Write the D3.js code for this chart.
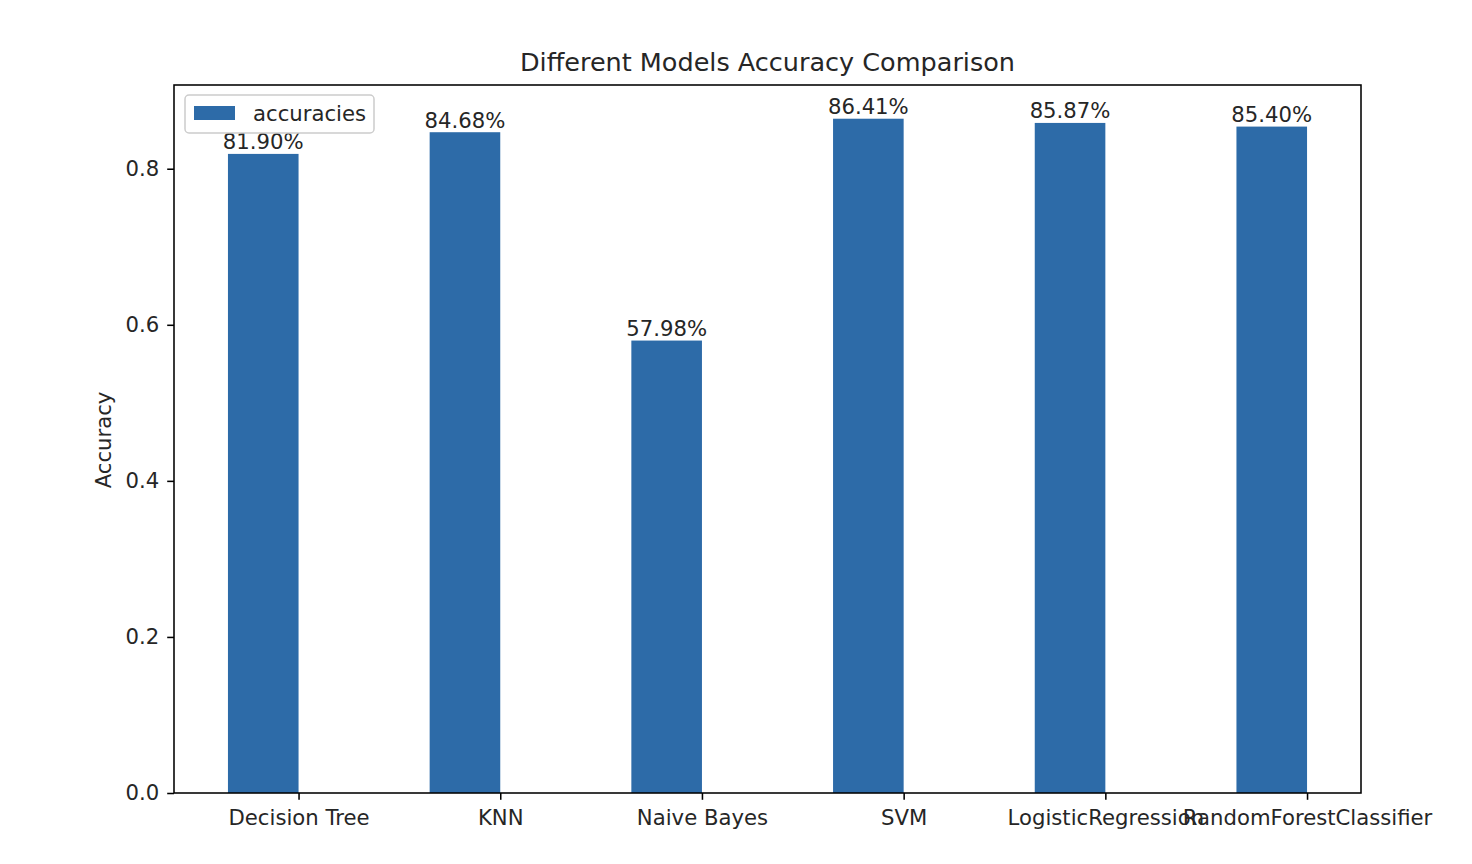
<!DOCTYPE html>
<html><head><meta charset="utf-8">
<script src="https://cdn.jsdelivr.net/npm/d3@7"></script>
<style>
body{margin:0;background:#fff;}
text{font-family:"DejaVu Sans",sans-serif;fill:#262626;}
</style></head>
<body>
<svg id="c" width="1472" height="864"></svg>
<script>
const categories = ["Decision Tree","KNN","Naive Bayes","SVM","LogisticRegression","RandomForestClassifier"];
const accuracies = [0.8190,0.8468,0.5798,0.8641,0.8587,0.8540];
const yTicks = [0.0,0.2,0.4,0.6,0.8];
const seriesName = "accuracies";

const svg = d3.select("#c");
const L=174, R=1361, T=85, B=793;
const fs=21.2, lw=1.55, tickLen=6.8;
const barW=0.35;
const color="#2d6ba8";

const n=categories.length;
const xmin=-barW, xmax=n-1;
const xpad=(xmax-xmin)*0.05;
const x=d3.scaleLinear().domain([xmin-xpad,xmax+xpad]).range([L,R]);
const ymax=d3.max(accuracies)*1.05;
const y=d3.scaleLinear().domain([0,ymax]).range([B,T]);

// bars
svg.append("g").selectAll("rect").data(accuracies).join("rect")
  .attr("x",(d,i)=>x(i-barW)).attr("width",(d,i)=>x(i)-x(i-barW))
  .attr("y",d=>y(d)).attr("height",d=>B-y(d)).attr("fill",color);

// bar labels
svg.append("g").selectAll("text").data(accuracies).join("text")
  .attr("x",(d,i)=>x(i-barW/2)).attr("y",d=>y(d)-4.5)
  .attr("text-anchor","middle").attr("font-size",fs)
  .text(d=>(d*100).toFixed(2)+"%");

// frame
svg.append("rect").attr("x",L).attr("y",T).attr("width",R-L).attr("height",B-T)
  .attr("fill","none").attr("stroke","#000").attr("stroke-width",lw);

// x axis
const xa=svg.append("g").attr("transform",`translate(0,${B})`)
  .call(d3.axisBottom(x).tickValues(d3.range(n)).tickFormat(i=>categories[i]).tickSize(tickLen).tickPadding(10));
xa.select(".domain").remove();
xa.selectAll("line").attr("stroke","#000").attr("stroke-width",lw);
xa.selectAll("text").attr("font-size",fs).attr("fill","#262626").attr("font-family","DejaVu Sans");

// y axis
const ya=svg.append("g").attr("transform",`translate(${L},0)`)
  .call(d3.axisLeft(y).tickValues(yTicks).tickFormat(d3.format(".1f")).tickSize(tickLen).tickPadding(8));
ya.select(".domain").remove();
ya.selectAll("line").attr("stroke","#000").attr("stroke-width",lw);
ya.selectAll("text").attr("font-size",fs).attr("fill","#262626").attr("font-family","DejaVu Sans");

// y label
svg.append("text").attr("transform",`translate(111,${(T+B)/2+1}) rotate(-90)`)
  .attr("text-anchor","middle").attr("font-size",fs).text("Accuracy");

// title
svg.append("text").attr("x",(L+R)/2).attr("y",T-14).attr("text-anchor","middle")
  .attr("font-size",25.5).text("Different Models Accuracy Comparison");

// legend
const lg=svg.append("g");
lg.append("rect").attr("x",185).attr("y",95).attr("width",189).attr("height",38).attr("rx",4)
  .attr("fill","#fff").attr("fill-opacity",0.8).attr("stroke","#ccc").attr("stroke-width",1.5);
lg.append("rect").attr("x",194).attr("y",106).attr("width",41).attr("height",14).attr("fill",color);
lg.append("text").attr("x",253).attr("y",121).attr("font-size",fs).text(seriesName);
</script>
</body></html>
